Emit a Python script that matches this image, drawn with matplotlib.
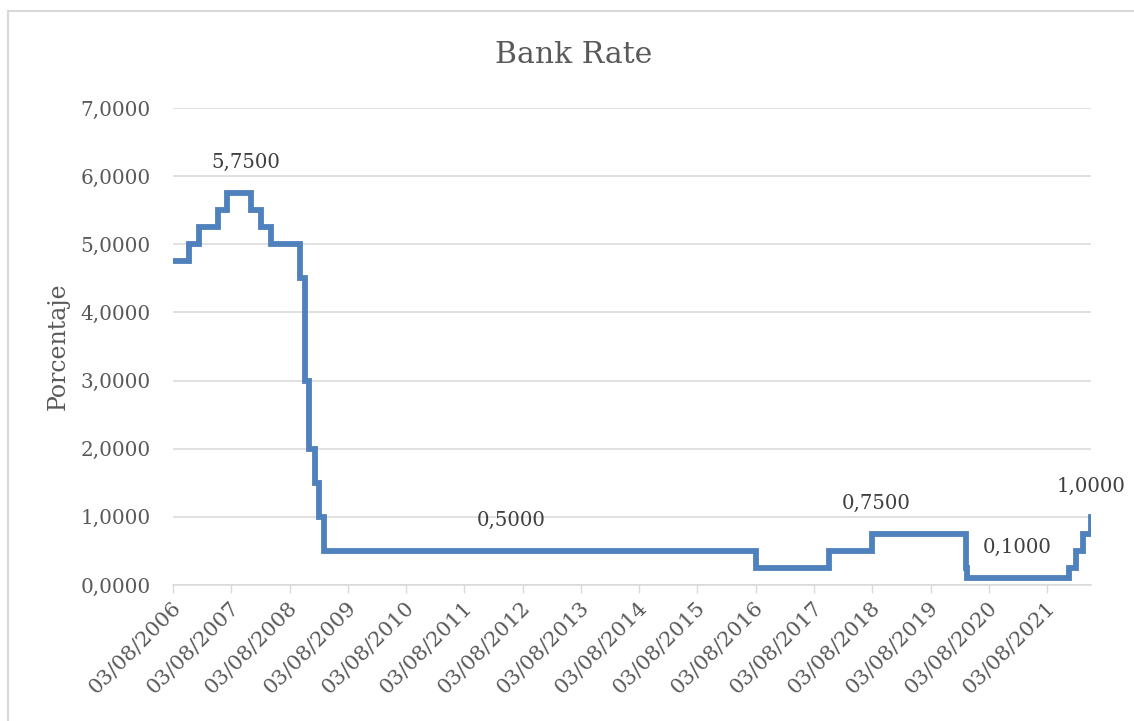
import matplotlib
matplotlib.use("Agg")
import matplotlib.pyplot as plt
from matplotlib.lines import Line2D
from matplotlib.transforms import ScaledTranslation
import datetime as dt

# ---- data ----
change_dates = ["2006-08-03", "2006-11-09", "2007-01-11", "2007-05-10", "2007-07-05",
                "2007-12-06", "2008-02-07", "2008-04-10", "2008-10-08", "2008-11-06",
                "2008-12-04", "2009-01-08", "2009-02-05", "2009-03-05", "2016-08-04",
                "2017-11-02", "2018-08-02", "2020-03-11", "2020-03-19", "2021-12-16",
                "2022-02-03", "2022-03-17", "2022-05-05"]
rates = [4.75, 5.00, 5.25, 5.50, 5.75,
         5.50, 5.25, 5.00, 4.50, 3.00,
         2.00, 1.50, 1.00, 0.50, 0.25,
         0.50, 0.75, 0.25, 0.10, 0.25,
         0.50, 0.75, 1.00]
label_dates = ["2007-11-01", "2012-05-20", "2018-08-25", "2021-01-26", "2022-05-05"]
tick_years = list(range(2006, 2022))
y_ticks = [0, 1, 2, 3, 4, 5, 6, 7]
title = "Bank Rate"
y_label = "Porcentaje"

def d(s):
    return dt.datetime.strptime(s, "%Y-%m-%d")

xs = [d(s) for s in change_dates]

def rate_at(day):
    val = rates[0]
    for x, r in zip(xs, rates):
        if x <= day:
            val = r
    return val

def fmt(v):
    return f"{v:.4f}".replace(".", ",")

TXT = "#595959"
GRID = "#d9d9d9"
FONT = "DejaVu Serif"

fig = plt.figure(figsize=(11.34, 7.21), dpi=100)
ax = fig.add_axes([173 / 1134, 1 - 585 / 721, (1091 - 173) / 1134, (585 - 108) / 721])

ax.plot(xs, rates, drawstyle="steps-post", color="#4f81bd", lw=4.2, solid_joinstyle="miter")

ax.set_xlim(xs[0], xs[-1])
ax.set_ylim(0, 7)
ax.set_yticks(y_ticks)
ax.set_yticklabels([fmt(v) for v in y_ticks], fontsize=14.4, color=TXT, family=FONT)
ax.tick_params(axis="y", length=0, pad=16)

tick_dates = [dt.datetime(y, 8, 3) for y in tick_years]
ax.set_xticks(tick_dates)
ax.set_xticklabels([t.strftime("%d/%m/%Y") for t in tick_dates], rotation=45,
                   ha="right", va="center", rotation_mode="anchor",
                   fontsize=15.2, color=TXT, family=FONT)
ax.tick_params(axis="x", length=6, width=1, color=GRID, direction="out", pad=8)
shift = ScaledTranslation(5 / 100, 0, fig.dpi_scale_trans)
for lab in ax.get_xticklabels():
    lab.set_transform(lab.get_transform() + shift)

ax.grid(axis="y", color=GRID, lw=1.1)
ax.set_axisbelow(True)
for s in ["top", "right", "left"]:
    ax.spines[s].set_visible(False)
ax.spines["bottom"].set_color(GRID)
ax.spines["bottom"].set_linewidth(1.1)

for ld in label_dates:
    day = d(ld)
    v = rate_at(day)
    ax.annotate(fmt(v), (day, v), xytext=(0, 22), textcoords="offset points",
                ha="center", va="center", fontsize=14.2, color="#404040", family=FONT)

ax.set_ylabel(y_label, fontsize=17, color=TXT, family=FONT, labelpad=8)
fig.text(574 / 1134, 1 - 55 / 721, title, ha="center", va="center",
         fontsize=21.5, color=TXT, family=FONT)

# outer chart border
fig.add_artist(Line2D([8 / 1134, 8 / 1134], [0, 1 - 10.5 / 721], transform=fig.transFigure,
                      color=GRID, lw=1.5))
fig.add_artist(Line2D([8 / 1134, 1], [1 - 10.5 / 721, 1 - 10.5 / 721], transform=fig.transFigure,
                      color=GRID, lw=1.5))

fig.savefig("out.png", dpi=100, facecolor="white")
